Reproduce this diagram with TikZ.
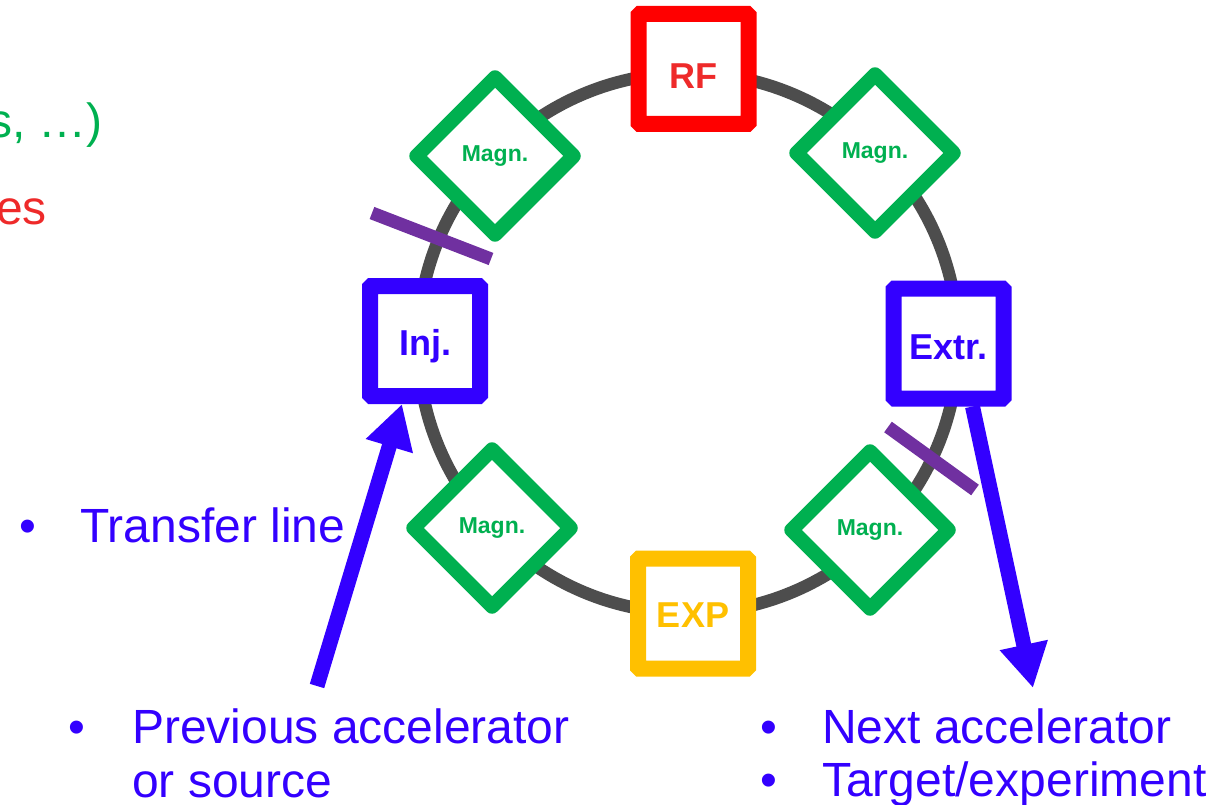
\documentclass[tikz,border=0pt]{standalone}
\usepackage{fontspec}
\setmainfont{Liberation Sans}
\usetikzlibrary{arrows.meta,shapes.geometric}
\definecolor{ringgray}{HTML}{4D4D4D}
\definecolor{rfred}{HTML}{FF0000}
\definecolor{rftext}{HTML}{EE2A2A}
\definecolor{expyel}{HTML}{FFC000}
\definecolor{injblue}{HTML}{3300FF}
\definecolor{magngreen}{HTML}{00B050}
\definecolor{septum}{HTML}{7030A0}
\newcommand{\lowertext}[2]{\raisebox{-#1}[\height][0pt]{#2}}
\begin{document}
\begin{tikzpicture}[x=1pt,y=-1pt,
  element/.style={draw, fill=white, line width=16pt, minimum size=110pt, inner sep=0pt,
    rounded corners=1.5pt, font=\fontsize{36}{40}\selectfont\bfseries},
  magnet/.style={diamond, aspect=1, draw=magngreen, fill=white, line width=14.5pt,
    minimum size=163pt, inner sep=0pt, line join=round, text=magngreen,
    font=\fontsize{23}{26}\selectfont\bfseries},
  beam/.style={draw=injblue, line width=15pt, -{Triangle[length=44pt,width=46pt]}},
  septbar/.style={draw=septum, line width=13pt},
  txt/.style={inner sep=0pt, font=\fontsize{48}{55}\selectfont}
]
\useasboundingbox (0,0) rectangle (1229,805);
% ring
\draw[ringgray, line width=12.5pt] (688,343) circle[radius=270pt];
% septa
\draw[septbar] (372,213) -- (491,259);
\draw[septbar] (888,427) -- (975,490);
% elements
\node[element, draw=rfred, text=rftext] (rf) at (693.5,69) {\lowertext{7pt}{RF}};
\node[element, draw=expyel, text=expyel] (exp) at (693,613.5) {\lowertext{2pt}{EXP}};
\node[element, draw=injblue, text=injblue] (inj) at (425,341) {\lowertext{1.5pt}{Inj.}};
\node[element, draw=injblue, text=injblue] (extr) at (948.5,343.5) {\lowertext{3.5pt}{Extr.}};
\node[magnet] (m1) at (495,156) {Magn.};
\node[magnet] (m2) at (875,153) {Magn.};
\node[magnet] (m3) at (492,528) {Magn.};
\node[magnet] (m4) at (870,530) {Magn.};
% beams
\coordinate (prevsrc) at (317,686);
\coordinate (nexttgt) at (1033,688);
\draw[beam] (prevsrc) -- ([xshift=40pt]inj.south west);
\draw[beam] ([xshift=87pt]extr.south west) -- (nexttgt);
% texts
\node[txt, text=magngreen, anchor=base east] (t1) at (103,138) {s, …)};
\node[txt, text=rftext, anchor=base east] (t2) at (47,225) {es};
\node[txt, text=injblue, anchor=base] (b1) at (28,542) {•};
\node[txt, text=injblue, anchor=base west] (t3) at (80,542) {Transfer line};
\node[txt, text=injblue, anchor=base] (b2) at (77,743) {•};
\node[txt, text=injblue, anchor=base west] (t4) at (132,743) {Previous accelerator};
\node[txt, text=injblue, anchor=base west] (t5) at (132,797) {or source};
\node[txt, text=injblue, anchor=base] (b3) at (769,743) {•};
\node[txt, text=injblue, anchor=base west] (t6) at (822,743) {Next accelerator};
\node[txt, text=injblue, anchor=base] (b4) at (769,796) {•};
\node[txt, text=injblue, anchor=base west] (t7) at (822,796) {Target/experiment};
\end{tikzpicture}
\end{document}
